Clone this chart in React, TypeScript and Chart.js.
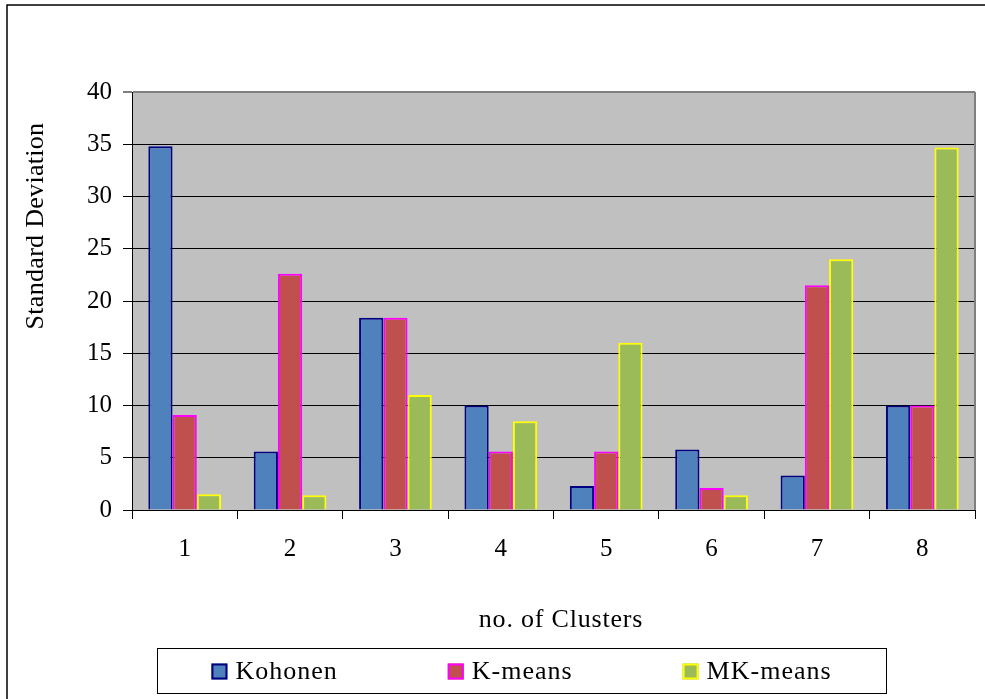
import React, { useEffect, useRef } from 'react';
import { Chart, registerables } from 'chart.js';

Chart.register(...registerables);

// chart values
const clusters = ['1', '2', '3', '4', '5', '6', '7', '8'];
const kohonen = [34.8, 5.6, 18.4, 10.0, 2.3, 5.8, 3.3, 10.0];
const kMeans = [9.1, 22.6, 18.4, 5.6, 5.6, 2.1, 21.5, 10.0];
const mkMeans = [1.5, 1.4, 11.0, 8.5, 16.0, 1.4, 24.0, 34.7];
const yTicks = { min: 0, max: 40, step: 5 };

const FONT = '"Liberation Serif", "Times New Roman", serif';

// draws the frame, plot background, axis titles and the boxed legend
const decorations = {
  id: 'decorations',
  beforeDraw(chart) {
    const { ctx, chartArea: a, width, height } = chart;
    ctx.save();
    ctx.fillStyle = '#fff';
    ctx.fillRect(0, 0, width, height);
    // outer frame (only top and left edges show)
    ctx.strokeStyle = '#000';
    ctx.lineWidth = 1.5;
    ctx.beginPath();
    ctx.moveTo(7, height);
    ctx.lineTo(7, 5);
    ctx.lineTo(width, 5);
    ctx.stroke();
    ctx.fillStyle = '#c0c0c0';
    ctx.fillRect(a.left, a.top, a.right - a.left, a.bottom - a.top);
    ctx.restore();
  },
  beforeDatasetsDraw(chart) {
    const { ctx, chartArea: a } = chart;
    ctx.save();
    ctx.strokeStyle = '#808080';
    ctx.lineWidth = 2;
    ctx.beginPath();
    ctx.moveTo(a.right, a.top);
    ctx.lineTo(a.right, a.bottom);
    ctx.stroke();
    ctx.restore();
  },
  afterDraw(chart) {
    const { ctx } = chart;
    ctx.save();
    ctx.fillStyle = '#000';
    ctx.font = `26px ${FONT}`;
    ctx.textAlign = 'center';
    ctx.textBaseline = 'middle';

    // y title
    ctx.save();
    ctx.letterSpacing = '0.3px';
    ctx.translate(36, 226);
    ctx.rotate(-Math.PI / 2);
    ctx.fillText('Standard Deviation', 0, 0);
    ctx.restore();

    // x title
    ctx.letterSpacing = '0.8px';
    ctx.fillText('no. of Clusters', 561, 620);

    // legend box
    const box = { left: 157, top: 648, right: 886, bottom: 693 };
    ctx.strokeStyle = '#000';
    ctx.lineWidth = 1;
    ctx.strokeRect(box.left + 0.5, box.top + 0.5, box.right - box.left, box.bottom - box.top);

    ctx.letterSpacing = '1px';
    ctx.font = `26px ${FONT}`;
    ctx.textAlign = 'left';
    const sq = 16;
    const gapSq = 8;
    const gapItem = 110;
    const items = chart.data.datasets.map((ds) => ({
      label: ds.label,
      fill: ds.backgroundColor,
      border: ds.borderColor,
      w: ctx.measureText(ds.label).width,
    }));
    const total = items.reduce((s, it) => s + sq + gapSq + it.w, 0) + gapItem * (items.length - 1);
    let x = (box.left + box.right) / 2 - total / 2;
    const cy = (box.top + box.bottom) / 2 + 1;
    items.forEach((it) => {
      ctx.fillStyle = it.fill;
      ctx.fillRect(x, cy - sq / 2, sq, sq);
      ctx.strokeStyle = it.border;
      ctx.lineWidth = 2;
      ctx.strokeRect(x + 1, cy - sq / 2 + 1, sq - 2, sq - 2);
      ctx.fillStyle = '#000';
      ctx.fillText(it.label, x + sq + gapSq, cy + 1);
      x += sq + gapSq + it.w + gapItem;
    });
    ctx.restore();
  },
};

export default function App() {
  const canvasRef = useRef(null);

  useEffect(() => {
    document.body.style.margin = '0';
    if (!canvasRef.current) return;

    const chart = new Chart(canvasRef.current, {
      type: 'bar',
      data: {
        labels: clusters,
        datasets: [
          { label: 'Kohonen', data: kohonen, backgroundColor: '#4F81BD', borderColor: '#000080', borderWidth: 2 },
          { label: 'K-means', data: kMeans, backgroundColor: '#C0504D', borderColor: '#FF00FF', borderWidth: 2 },
          { label: 'MK-means', data: mkMeans, backgroundColor: '#9BBB59', borderColor: '#FFFF00', borderWidth: 2 },
        ],
      },
      options: {
        animation: false,
        responsive: true,
        maintainAspectRatio: false,
        layout: { padding: { left: 0, right: 10, top: 92, bottom: 59 } },
        datasets: { bar: { categoryPercentage: 0.69, barPercentage: 1 } },
        plugins: {
          legend: { display: false },
          tooltip: { enabled: false },
        },
        scales: {
          x: {
            offset: true,
            grid: { drawOnChartArea: false, drawTicks: true, tickLength: 9, color: '#000', offset: true },
            border: { color: '#000', width: 1 },
            ticks: { color: '#000', padding: 15, font: { family: FONT, size: 25 } },
            afterFit(scale) {
              scale.height = 130;
            },
          },
          y: {
            min: yTicks.min,
            max: yTicks.max,
            grid: {
              tickLength: 9,
              color: (c) => (c.tick && c.tick.value === yTicks.max ? '#808080' : '#000'),
              lineWidth: (c) => (c.tick && c.tick.value === yTicks.max ? 2 : 1),
            },
            border: { color: '#000', width: 1 },
            ticks: { stepSize: yTicks.step, color: '#000', padding: 11, font: { family: FONT, size: 25 } },
            afterFit(scale) {
              scale.width = 132;
            },
          },
        },
      },
      plugins: [decorations],
    });

    return () => chart.destroy();
  }, []);

  return (
    <div style={{ width: 985, height: 699, position: 'relative', background: '#fff' }}>
      <canvas ref={canvasRef}></canvas>
    </div>
  );
}
